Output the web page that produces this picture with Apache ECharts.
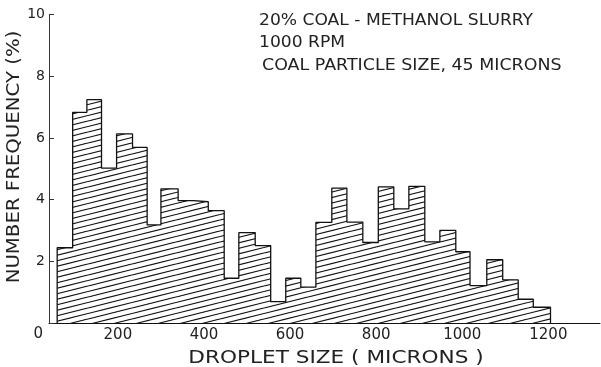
<!DOCTYPE html>
<html>
<head>
<meta charset="utf-8">
<script src="https://cdn.jsdelivr.net/npm/echarts@6/dist/echarts.min.js"></script>
<style>
html,body{margin:0;padding:0;background:#fff;}
#chart{width:601px;height:367px;}
</style>
</head>
<body>
<div id="chart"></div>
<script>
// Bin edges (microns) and number frequency (%) per bin
const binEdges = [59, 95, 128, 162, 197, 234, 268, 300, 340, 376, 410, 447, 481, 519, 555, 590, 625, 660, 697, 732, 769, 805, 841, 876, 913, 948, 985, 1018, 1057, 1094, 1130, 1165, 1205];
const frequency = [2.44, 6.83, 7.24, 5.02, 6.13, 5.69, 3.18, 4.35, 3.97, 3.93, 3.64, 1.45, 2.93, 2.51, 0.69, 1.45, 1.16, 3.26, 4.37, 3.27, 2.61, 4.41, 3.70, 4.43, 2.63, 3.00, 2.31, 1.21, 2.05, 1.40, 0.77, 0.51];
const xTickValues = [200, 400, 600, 800, 1000, 1200];
const yTickLabels = [0, 2, 4, 6, 8, 10];
const annotations = ['20% COAL - METHANOL SLURRY', '1000 RPM', 'COAL PARTICLE SIZE, 45 MICRONS'];
const xTitle = 'DROPLET SIZE ( MICRONS )';
const yTitle = 'NUMBER FREQUENCY (%)';

// step outline data
const stepData = [[binEdges[0], 0]];
for (let i = 0; i < frequency.length; i++) stepData.push([binEdges[i], frequency[i]]);
stepData.push([binEdges[binEdges.length - 1], frequency[frequency.length - 1]]);
stepData.push([binEdges[binEdges.length - 1], 0]);

// hatch pattern tile (two lines per tile, 5.5px vertical spacing)
const tile = document.createElement('canvas');
const TW = 44, TH = 11, GAP = 5.5;
tile.width = TW; tile.height = TH;
const tctx = tile.getContext('2d');
tctx.fillStyle = '#fff';
tctx.fillRect(0, 0, TW, TH);
tctx.strokeStyle = '#111';
tctx.lineWidth = 1.2;
for (let k = -3; k <= 3; k++) {
  tctx.beginPath();
  tctx.moveTo(0, TH + k * GAP);
  tctx.lineTo(TW, k * GAP);
  tctx.stroke();
}

const FONT = '"DejaVu Sans", sans-serif';
const chart = echarts.init(document.getElementById('chart'), null, {renderer: 'canvas'});
chart.setOption({
  animation: false,
  backgroundColor: '#fff',
  grid: {left: 49, right: 1, top: 14.5, bottom: 44},
  xAxis: {
    type: 'value', min: 40, max: 1320,
    axisLine: {show: true, lineStyle: {color: '#111', width: 1}},
    axisTick: {show: true, inside: true, length: 4, customValues: xTickValues, lineStyle: {color: '#111'}},
    axisLabel: {customValues: xTickValues, fontSize: 15, color: '#222', margin: 5, fontFamily: FONT,
      formatter: v => String(v)},
    splitLine: {show: false}
  },
  yAxis: {
    type: 'value', min: 0, max: 10, interval: 2,
    axisLine: {show: true, lineStyle: {color: '#333', width: 1}},
    axisTick: {show: true, inside: true, length: 5, lineStyle: {color: '#333'}},
    axisLabel: {
      fontSize: 14, color: '#222', margin: 4, fontFamily: FONT,
      formatter: v => v === 0 ? '{z|' + yTickLabels[0] + '}' : String(v),
      rich: {z: {fontSize: 15, color: '#222', fontFamily: FONT, padding: [22, 2, 0, 0]}}
    },
    splitLine: {show: false}
  },
  series: [{
    type: 'line',
    step: 'end',
    symbol: 'none',
    silent: true,
    data: stepData,
    lineStyle: {color: '#111', width: 1.3},
    areaStyle: {color: {image: tile, repeat: 'repeat'}, opacity: 1}
  }],
  graphic: [
    {type: 'text', x: 259, y: 21, scaleX: 1.07, style: {text: annotations[0], font: '16px ' + FONT, fill: '#222', verticalAlign: 'middle', align: 'left'}},
    {type: 'text', x: 259, y: 43, scaleX: 1.07, style: {text: annotations[1], font: '16px ' + FONT, fill: '#222', verticalAlign: 'middle', align: 'left'}},
    {type: 'text', x: 262, y: 66, scaleX: 1.09, style: {text: annotations[2], font: '16px ' + FONT, fill: '#222', verticalAlign: 'middle', align: 'left'}},
    {type: 'text', x: 336, y: 358, scaleX: 1.2, style: {text: xTitle, font: '18px ' + FONT, fill: '#222', verticalAlign: 'middle', align: 'center'}},
    {type: 'text', x: 15, y: 157, rotation: Math.PI / 2, scaleX: 1.16, style: {text: yTitle, font: '17px ' + FONT, fill: '#222', verticalAlign: 'middle', align: 'center'}}
  ]
});
</script>
</body>
</html>
